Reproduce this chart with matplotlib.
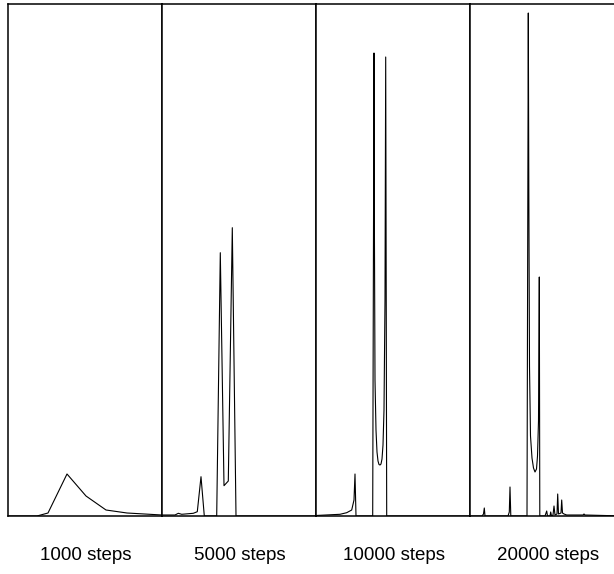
import matplotlib
matplotlib.use("Agg")
import matplotlib.pyplot as plt

# ============================================
# data: one trace per training stage (x = position inside panel, y = intensity)
# ============================================
labels = ["1000 steps", "5000 steps", "10000 steps", "20000 steps"]

x_1000 = [0, 29, 40, 59, 78, 98, 119, 154]
y_1000 = [0, 0, 3, 42, 20, 6, 3, 1]

x_5000 = [0, 13, 16.3, 19.7, 31.3, 35.3, 39, 42.3, 54.7, 58.3, 62, 66.3, 70.3, 74, 154]
y_5000 = [1, 1, 2.7, 1.7, 2.7, 4.3, 39.3, 0, 0, 263.3, 30.3, 35, 288.3, 0, 0]

x_10000 = [0, 24, 30.7, 35.7, 38, 39, 40, 56.7, 58, 58.3, 59, 60, 61, 62, 63, 64,
           65, 66, 67, 68, 69, 69.7, 70.7, 154]
y_10000 = [0.5, 1.7, 3.3, 6, 16, 42, 0, 0, 463, 316, 136, 86, 64, 55, 51.5, 51,
           52, 57, 71, 106, 216, 459, 0, 0]

x_20000 = [0, 12, 13.5, 14.3, 15, 38, 39.3, 40, 40.8, 57, 58.3, 58.8, 59.5, 60.5,
           62, 63.5, 65, 66.5, 67.5, 68.5, 69, 69.3, 69.8, 75, 76.7, 77.5, 80,
           80.7, 81.5, 83, 84, 85, 87, 87.7, 88.5, 91, 91.7, 92.5, 94, 96.7, 100,
           113, 114, 115, 154]
y_20000 = [0, 0, 2, 8, 0, 0, 4, 29, 0, 0, 503, 330, 150, 80, 58, 48, 44, 47, 60,
           95, 180, 239, 0, 0, 5, 0, 0, 4, 0, 1, 10, 1, 2, 22, 2, 3, 16, 3, 2, 1,
           1, 1, 2, 1, 0]

traces = [(x_1000, y_1000), (x_5000, y_5000), (x_10000, y_10000), (x_20000, y_20000)]

# ============================================
# figure (last panel runs past the right edge and gets cut)
# ============================================
plt.rcParams['font.family'] = ['Liberation Sans', 'DejaVu Sans']

fig, axes = plt.subplots(1, 4, figsize=(6.14, 5.74), dpi=100, sharey=True)
fig.subplots_adjust(left=8 / 614, right=624 / 614, top=1 - 4 / 574, bottom=1 - 516 / 574,
                    wspace=0)

label_x = [86, 240, 394, 548]
for ax, (xs, ys), lab, lx in zip(axes, traces, labels, label_x):
    ax.plot(xs, ys, color='black', linewidth=0.8)
    ax.set_xlim(0, 154)
    ax.set_ylim(0, 512)
    ax.set_xticks([])
    ax.set_yticks([])
    for sp in ax.spines.values():
        sp.set_linewidth(1.1)
    # label under each panel
    fig.text(lx / 614, 1 - 556 / 574, lab, ha='center', va='center', fontsize=13.5)

fig.savefig("out.png", dpi=100)
